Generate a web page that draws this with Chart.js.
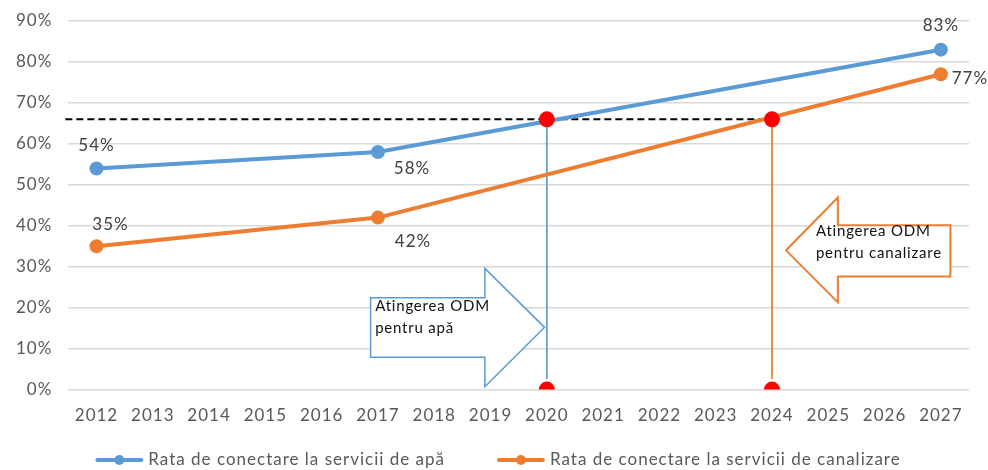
<!DOCTYPE html>
<html>
<head>
<meta charset="utf-8">
<script src="https://cdn.jsdelivr.net/npm/chart.js@4/dist/chart.umd.min.js"></script>
<style>
  html, body { margin: 0; padding: 0; background: #fff; }
  #wrap { width: 988px; height: 470px; }
</style>
</head>
<body>
<div id="wrap"><canvas id="myChart" width="988" height="470"></canvas></div>
<script>
// data
const years = ['2012','2013','2014','2015','2016','2017','2018','2019','2020','2021','2022','2023','2024','2025','2026','2027'];
const apa =   [54, null, null, null, null, 58, null, null, null, null, null, null, null, null, null, 83];
const canal = [35, null, null, null, null, 42, null, null, null, null, null, null, null, null, null, 77];
const seriesNames = ['Rata de conectare la servicii de apă', 'Rata de conectare la servicii de canalizare'];
const yTicks = [0, 10, 20, 30, 40, 50, 60, 70, 80, 90];
const targetLevel = 66;           // ODM
const targetYears = ['2020', '2024'];
const arrowTexts = [['Atingerea ODM', 'pentru apă'], ['Atingerea ODM', 'pentru canalizare']];

const BLUE = '#5B9BD5';
const ORANGE = '#ED7D31';
const FONT = 'Lato, "Open Sans", sans-serif';

// the original text is a bit airy, give all canvas text some tracking
const tracking = {
  id: 'tracking',
  beforeLayout(chart) { chart.ctx.letterSpacing = '1px'; },
  beforeDraw(chart) { chart.ctx.letterSpacing = '1px'; }
};

// where each value label sits relative to its point
const labelPlacement = {
  0: { 0: [0, -23], 5: [34, 16], 15: [0, -24] },
  1: { 0: [14, -22], 5: [35, 24], 15: [29, 4] }
};

const valueLabels = {
  id: 'valueLabels',
  afterDatasetsDraw(chart) {
    const ctx = chart.ctx;
    ctx.save();
    ctx.font = '17px ' + FONT;
    ctx.fillStyle = '#404040';
    ctx.textAlign = 'center';
    ctx.textBaseline = 'middle';
    [0, 1].forEach(di => {
      const meta = chart.getDatasetMeta(di);
      const vals = chart.data.datasets[di].data;
      Object.keys(labelPlacement[di]).forEach(k => {
        const i = +k;
        const pt = meta.data[i];
        const off = labelPlacement[di][k];
        ctx.fillText(vals[i] + '%', pt.x + off[0], pt.y + off[1]);
      });
    });
    ctx.restore();
  }
};

// dashed ODM line from the left edge to the later target year
const targetLine = {
  id: 'targetLine',
  beforeDatasetsDraw(chart) {
    const { ctx, chartArea, scales } = chart;
    const y = scales.y.getPixelForValue(targetLevel);
    const xEnd = scales.x.getPixelForValue(years.indexOf(targetYears[1]));
    ctx.save();
    ctx.strokeStyle = '#000';
    ctx.lineWidth = 2;
    ctx.setLineDash([7, 4]);
    ctx.beginPath();
    ctx.moveTo(chartArea.left - 3, y);
    ctx.lineTo(xEnd, y);
    ctx.stroke();
    ctx.restore();
  }
};

// block arrows, given in axis units (category index, percent)
const arrows = [
  { color: BLUE, width: 1.5, rectX: 4.87, headX: 6.9, tipX: 7.96, tipY: 15.2,
    rectTop: 22.4, rectBot: 7.9, headTop: 29.6, headBot: 0.7, text: arrowTexts[0], textX: 4.95, textY: 17.6 },
  { color: ORANGE, width: 2, rectX: 15.17, headX: 13.17, tipX: 12.25, tipY: 34.0,
    rectTop: 40.1, rectBot: 27.6, headTop: 46.9, headBot: 21.3, text: arrowTexts[1], textX: 12.78, textY: 36.0 }
];

const blockArrows = {
  id: 'blockArrows',
  afterDatasetsDraw(chart) {
    const { ctx, scales } = chart;
    const X = v => scales.x.getPixelForValue(v);
    const Y = v => scales.y.getPixelForValue(v);
    arrows.forEach(a => {
      ctx.save();
      ctx.beginPath();
      ctx.moveTo(X(a.rectX), Y(a.rectTop));
      ctx.lineTo(X(a.headX), Y(a.rectTop));
      ctx.lineTo(X(a.headX), Y(a.headTop));
      ctx.lineTo(X(a.tipX), Y(a.tipY));
      ctx.lineTo(X(a.headX), Y(a.headBot));
      ctx.lineTo(X(a.headX), Y(a.rectBot));
      ctx.lineTo(X(a.rectX), Y(a.rectBot));
      ctx.closePath();
      ctx.fillStyle = '#fff';
      ctx.fill();
      ctx.strokeStyle = a.color;
      ctx.lineWidth = a.width;
      ctx.lineJoin = 'miter';
      ctx.stroke();
      ctx.fillStyle = '#111';
      ctx.font = '15px ' + FONT;
      ctx.textAlign = 'left';
      ctx.textBaseline = 'middle';
      ctx.letterSpacing = '0.8px';
      const x0 = X(a.textX), y0 = Y(a.textY);
      a.text.forEach((t, i) => ctx.fillText(t, x0, y0 + i * 22 - 11));
      ctx.restore();
    });
  }
};

// legend at the bottom: line with a dot, then the series name
const lineLegend = {
  id: 'lineLegend',
  afterDraw(chart) {
    const ctx = chart.ctx;
    const colors = [BLUE, ORANGE];
    const markW = 48, gapText = 5, gapItem = 52;
    const y = chart.height - 10;
    ctx.save();
    ctx.font = '17px ' + FONT;
    const widths = seriesNames.map(s => ctx.measureText(s).width);
    const total = widths.reduce((s, w) => s + markW + gapText + w, 0) + gapItem;
    let x = (chart.width - total) / 2 + 4;
    seriesNames.forEach((name, i) => {
      ctx.strokeStyle = colors[i];
      ctx.fillStyle = colors[i];
      ctx.lineWidth = 4;
      ctx.lineCap = 'round';
      ctx.beginPath();
      ctx.moveTo(x + 2, y);
      ctx.lineTo(x + markW - 2, y);
      ctx.stroke();
      ctx.beginPath();
      ctx.arc(x + markW / 2, y, 5, 0, Math.PI * 2);
      ctx.fill();
      ctx.fillStyle = '#595959';
      ctx.textAlign = 'left';
      ctx.textBaseline = 'middle';
      ctx.fillText(name, x + markW + gapText, y);
      x += markW + gapText + widths[i] + gapItem;
    });
    ctx.restore();
  }
};

const redDots = [];
targetYears.forEach(yr => {
  redDots.push({ x: yr, y: targetLevel });
  redDots.push({ x: yr, y: 0 });
});

const ctx = document.getElementById('myChart').getContext('2d');
new Chart(ctx, {
  type: 'line',
  data: {
    labels: years,
    datasets: [
      {
        label: seriesNames[0],
        data: apa,
        borderColor: BLUE,
        backgroundColor: BLUE,
        borderWidth: 4,
        pointRadius: 5,
        pointHoverRadius: 5,
        spanGaps: true,
        tension: 0,
        order: 2,
      },
      {
        label: seriesNames[1],
        data: canal,
        borderColor: ORANGE,
        backgroundColor: ORANGE,
        borderWidth: 4,
        pointRadius: 5,
        pointHoverRadius: 5,
        spanGaps: true,
        tension: 0,
        order: 2,
      },
      {
        label: 'odm-apa',
        data: [{ x: targetYears[0], y: targetLevel }, { x: targetYears[0], y: 2.6 }],
        borderColor: BLUE,
        borderWidth: 1,
        pointRadius: 0,
        order: 3,
      },
      {
        label: 'odm-canal',
        data: [{ x: targetYears[1], y: targetLevel }, { x: targetYears[1], y: 2.6 }],
        borderColor: ORANGE,
        borderWidth: 1,
        pointRadius: 0,
        order: 3,
      },
      {
        label: 'odm',
        data: redDots,
        showLine: false,
        pointRadius: 8,
        pointHoverRadius: 8,
        pointBorderWidth: 0,
        backgroundColor: '#FF0000',
        borderColor: '#FF0000',
        order: 0,
      },
    ],
  },
  options: {
    responsive: false,
    animation: false,
    layout: { padding: { top: 0, right: 19, left: 0, bottom: 28 } },
    plugins: {
      tooltip: { enabled: false },
      legend: { display: false },
    },
    scales: {
      y: {
        min: 0,
        max: 90,
        afterBuildTicks(axis) { axis.ticks = yTicks.map(v => ({ value: v })); },
        afterFit(axis) { axis.paddingTop = 21; },
        ticks: {
          color: '#595959',
          padding: 16,
          font: { family: FONT, size: 17 },
          callback: v => v + '%',
        },
        grid: { color: '#D9D9D9', lineWidth: 1.5, drawTicks: false },
        border: { display: false },
      },
      x: {
        offset: true,
        grid: { display: false, drawTicks: false },
        border: { display: false },
        ticks: {
          color: '#595959',
          padding: 16,
          maxRotation: 0,
          autoSkip: false,
          font: { family: FONT, size: 17 },
        },
      },
    },
  },
  plugins: [tracking, targetLine, valueLabels, blockArrows, lineLegend],
});
</script>
</body>
</html>
